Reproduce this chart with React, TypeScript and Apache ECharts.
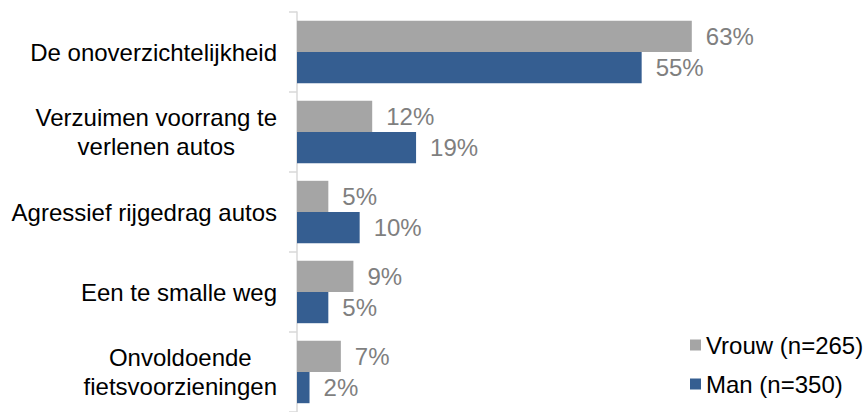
import React, { useEffect, useRef } from "react";
import * as echarts from "echarts";

const categories = [
  "De onoverzichtelijkheid",
  "Verzuimen voorrang te\nverlenen autos",
  "Agressief rijgedrag autos",
  "Een te smalle weg",
  "Onvoldoende\nfietsvoorzieningen",
];
const seriesNames = ["Vrouw (n=265)", "Man (n=350)"];
const vrouwValues = [63, 12, 5, 9, 7];
const manValues = [55, 19, 10, 5, 2];
const colors = ["#A5A5A5", "#355E91"];

const FONT = "'Liberation Sans', Arial, sans-serif";

export default function App() {
  const ref = useRef<HTMLDivElement>(null);
  useEffect(() => {
    if (!ref.current) return;
    const chart = echarts.init(ref.current, null, { renderer: "svg" });
    const label = {
      show: true,
      position: "right",
      distance: 14,
      formatter: "{c}%",
      color: "#7F7F7F",
      fontSize: 24,
      fontFamily: FONT,
    };
    chart.setOption({
      animation: false,
      grid: { left: 297, top: 12, width: 564, height: 407 },
      xAxis: {
        type: "value",
        min: 0,
        max: 90,
        show: false,
      },
      yAxis: {
        type: "category",
        inverse: true,
        data: categories,
        axisLine: { show: true, lineStyle: { color: "#D9D9D9", width: 1.5 } },
        axisTick: { show: true, length: 8, lineStyle: { color: "#D9D9D9", width: 1.5 } },
        axisLabel: {
          margin: 20,
          align: "right",
          formatter: (v: string) =>
            v
              .split("\n")
              .map((l) => `{c|${l}}`)
              .join("\n"),
          rich: {
            c: {
              fontSize: 24,
              lineHeight: 29,
              align: "center",
              color: "#000000",
              fontFamily: FONT,
            },
          },
        },
        splitLine: { show: false },
      },
      legend: {
        orient: "vertical",
        left: 690,
        top: 331,
        padding: 0,
        itemWidth: 11,
        itemHeight: 11,
        itemGap: 11,
        icon: "rect",
        textStyle: { fontSize: 24, lineHeight: 28, color: "#000000", fontFamily: FONT },
        data: seriesNames,
      },
      series: [
        {
          name: seriesNames[0],
          type: "bar",
          data: vrouwValues,
          itemStyle: { color: colors[0] },
          barGap: "0%",
          barCategoryGap: "22%",
          label,
        },
        {
          name: seriesNames[1],
          type: "bar",
          data: manValues,
          itemStyle: { color: colors[1] },
          barGap: "0%",
          barCategoryGap: "22%",
          label,
        },
      ],
    });
    return () => chart.dispose();
  }, []);
  return (
    <div
      ref={ref}
      style={{ position: "absolute", left: 0, top: 0, width: 867, height: 412 }}
    />
  );
}
